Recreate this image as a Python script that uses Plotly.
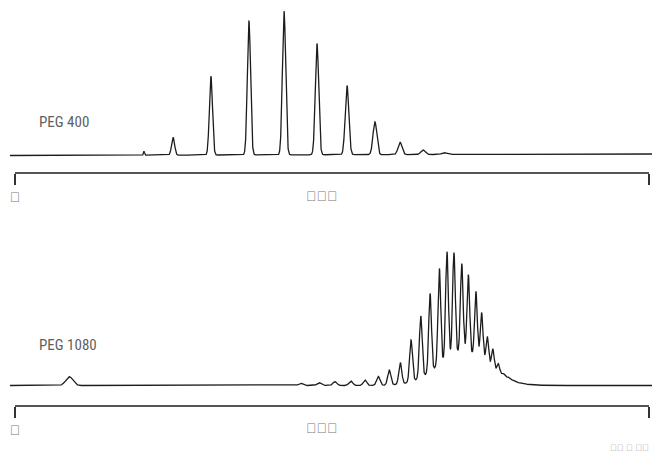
import numpy as np
import plotly.graph_objects as go

# ---------------- data ----------------
# PEG 400 chromatogram: peak table (retention time [min], height [mV], sigma [min])
peg400_rt = [6.10, 7.48, 9.27, 11.07, 12.73, 14.29, 15.71, 17.03, 18.22, 19.31, 20.30]
peg400_height = [4.0, 17.8, 78.8, 133.8, 143.8, 111.2, 69.2, 32.8, 12.2, 4.5, 1.8]
peg400_sigma = [0.025, 0.071, 0.073, 0.076, 0.078, 0.080, 0.085, 0.090, 0.095, 0.104, 0.118]
peg400_baseline = [0.0, 1.5]          # baseline at start / end of run [mV]

# PEG 1080 chromatogram: peak table
peg1080_rt = [2.57, 13.52, 14.39, 15.14, 15.89, 16.56, 17.19, 17.71, 18.23, 18.74,
              19.20, 19.64, 20.08, 20.44, 20.77, 21.14, 21.45, 21.81, 22.08, 22.35,
              22.61, 22.87, 23.11, 23.33, 23.57]
peg1080_height = [8.8, 2.2, 2.8, 3.8, 4.5, 5.5, 8.9, 15.0, 21.6, 41.7,
                  61.6, 78.2, 96.0, 107.0, 102.0, 89.0, 78.7, 65.2, 48.0, 28.4,
                  20.4, 9.6, 3.2, 2.0, 1.0]
peg1080_sigma = [0.166, 0.095, 0.095, 0.095, 0.090, 0.085, 0.080, 0.075, 0.070, 0.068,
                 0.066, 0.064, 0.064, 0.064, 0.064, 0.064, 0.064, 0.064, 0.064, 0.064,
                 0.064, 0.066, 0.068, 0.070, 0.075]
# unresolved oligomer envelope under the PEG 1080 peaks: centre [min], height [mV], sigma [min]
peg1080_envelope = [21.20, 33.0, 1.183]
peg1080_baseline = [0.0, 0.0]

run_time = [-0.24, 30.15]             # recorded time span [min]
axis_ticks = [0, 30]
# the reference shows these labels only as missing-glyph boxes
axis_ticktext = ["\ue000", "\ue001"]
axis_title = "\ue010\ue011\ue012"
panel_labels = ["PEG 400", "PEG 1080"]
figure_code = "\ue020\ue021 \ue022 \ue023\ue024"

# ---------------- build traces ----------------
t = np.linspace(run_time[0], run_time[1], 5000)


def chromatogram(rt, h, s, base, envelope=None):
    y = np.interp(t, [run_time[0], run_time[1]], base)
    for r, hh, ss in zip(rt, h, s):
        y = y + hh * np.exp(-((t - r) ** 2) / (2 * ss ** 2))
    if envelope is not None:
        c, hh, ss = envelope
        y = y + hh * np.exp(-((t - c) ** 2) / (2 * ss ** 2))
    return y


y400 = chromatogram(peg400_rt, peg400_height, peg400_sigma, peg400_baseline)
y1080 = chromatogram(peg1080_rt, peg1080_height, peg1080_sigma, peg1080_baseline, peg1080_envelope)

W, H = 652, 454


def py(p):
    return 1 - p / H


line_col = "#1c1c1c"
fig = go.Figure()
fig.add_trace(go.Scatter(x=t, y=y400, mode="lines", line=dict(color=line_col, width=1.3),
                         xaxis="x", yaxis="y", hoverinfo="skip"))
fig.add_trace(go.Scatter(x=t, y=y1080, mode="lines", line=dict(color=line_col, width=1.3),
                         xaxis="x3", yaxis="y3", hoverinfo="skip"))
# carriers for the two time axes
for xa, ya in (("x2", "y2"), ("x4", "y4")):
    fig.add_trace(go.Scatter(x=axis_ticks, y=[0, 0], mode="lines", opacity=0,
                             line=dict(width=0), xaxis=xa, yaxis=ya, hoverinfo="skip"))

trace_x = dict(domain=[10 / W, 1], range=[-0.2366, 30.142], visible=False, automargin=False)
trace_y = dict(range=[-9.5, 155.5], visible=False, automargin=False)
box_font = dict(size=14, color="#777", family="Liberation Sans")
time_axis = dict(domain=[15 / W, 649 / W], range=[axis_ticks[0], axis_ticks[1]],
                 showline=True, linecolor="#555", linewidth=1.6,
                 ticks="outside", ticklen=11, tickwidth=1.6, tickcolor="#333",
                 tickvals=axis_ticks, ticktext=axis_ticktext, tickfont=box_font,
                 showgrid=False, zeroline=False, fixedrange=True, automargin=False)
strip_y = dict(range=[0, 1], visible=False, automargin=False)

fig.update_layout(
    template="none",
    width=W, height=H, margin=dict(l=0, r=0, t=0, b=0, autoexpand=False),
    paper_bgcolor="white", plot_bgcolor="white", showlegend=False,
    xaxis=dict(trace_x, anchor="y"),
    yaxis=dict(trace_y, domain=[py(165), py(0)], anchor="x"),
    xaxis3=dict(trace_x, anchor="y3"),
    yaxis3=dict(trace_y, domain=[py(395), py(230)], anchor="x3"),
    xaxis2=dict(time_axis, anchor="y2"),
    yaxis2=dict(strip_y, domain=[py(172), py(170)], anchor="x2"),
    xaxis4=dict(time_axis, anchor="y4"),
    yaxis4=dict(strip_y, domain=[py(405), py(403)], anchor="x4"),
)

label_font = dict(family="Liberation Sans Narrow, Roboto Condensed, Liberation Sans, sans-serif",
                  size=15, color="#5f5f5f")
ann = [
    dict(text=panel_labels[0], x=37 / W, y=py(122), xanchor="left", yanchor="middle", font=label_font),
    dict(text=panel_labels[1], x=37 / W, y=py(345), xanchor="left", yanchor="middle", font=label_font),
    dict(text=axis_title, x=321.5 / W, y=py(196), xanchor="center", yanchor="middle", font=box_font),
    dict(text=axis_title, x=321.5 / W, y=py(428), xanchor="center", yanchor="middle", font=box_font),
    dict(text=figure_code, x=651 / W, y=py(447.5), xanchor="right", yanchor="middle",
         font=dict(size=9, color="#999", family="Liberation Sans")),
]
for a in ann:
    a.update(xref="paper", yref="paper", showarrow=False)
fig.update_layout(annotations=ann)

fig.write_html("out.html", config={"displayModeBar": False},
               post_script="document.body.style.margin='0';")
